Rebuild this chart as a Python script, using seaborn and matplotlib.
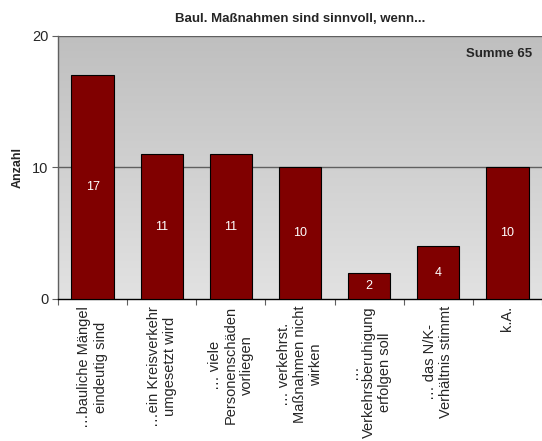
import numpy as np
import matplotlib
matplotlib.use("Agg")
import matplotlib.pyplot as plt
import seaborn as sns
from matplotlib.colors import LinearSegmentedColormap

# ─── Data ───────────────────────────────────────────────────────────────────
categories = [
    "…bauliche Mängel\neindeutig sind",
    "…ein Kreisverkehr\numgesetzt wird",
    "… viele\nPersonenschäden\nvorliegen",
    "… verkehrst.\nMaßnahmen nicht\nwirken",
    "…\nVerkehrsberuhigung\nerfolgen soll",
    "… das N/K-\nVerhältnis stimmt",
    "k.A.",
]
counts = [17, 11, 11, 10, 2, 4, 10]
title = "Baul. Maßnahmen sind sinnvoll, wenn..."
total_label = "Summe 65"
y_ticks = [0, 10, 20]

# ─── Style ──────────────────────────────────────────────────────────────────
sns.set_style("white")
plt.rcParams["font.family"] = ["Liberation Sans", "DejaVu Sans"]

BAR_COLOR = "#800000"
GRID_COLOR = "#606060"

fig = plt.figure(figsize=(5.42, 4.41), dpi=100)
ax = fig.add_axes([0.107, 0.322, 0.893, 0.597])

sns.barplot(x=categories, y=counts, color=BAR_COLOR, width=0.61,
            edgecolor="black", linewidth=0.8, saturation=1, ax=ax, zorder=3)

# gradient background (darker at top)
cmap = LinearSegmentedColormap.from_list("bg", ["#e2e2e2", "#bfbfbf"])
grad = np.linspace(0, 1, 256).reshape(-1, 1)
ax.imshow(grad, extent=[-0.5, 6.5, 0, 20], origin="lower", aspect="auto",
          cmap=cmap, zorder=0)
ax.set_xlim(-0.5, 6.5)
ax.set_ylim(0, 20)

for y in [10, 20]:
    ax.axhline(y, color=GRID_COLOR, lw=1.0, zorder=1)

# value labels inside bars
for i, v in enumerate(counts):
    ax.text(i, v / 2, str(v), ha="center", va="center", color="white",
            fontsize=9, zorder=4)

ax.text(0.979, 0.93, total_label, transform=ax.transAxes, ha="right",
        va="center", fontsize=9.5, fontweight="bold")

ax.set_title(title, fontsize=9.5, fontweight="bold", pad=10)
ax.set_ylabel("Anzahl", fontsize=9, fontweight="bold", labelpad=6)
ax.set_xlabel("")

ax.set_yticks(y_ticks)
ax.tick_params(axis="y", labelsize=10.5, length=4, width=0.8, color=GRID_COLOR,
               left=True, pad=3)
ax.set_xticks(range(len(categories)))
ax.set_xticklabels(categories, rotation=90, fontsize=10.5, ha="center",
                   va="top", multialignment="center")
ax.tick_params(axis="x", length=0, pad=5)
ax.set_xticks(np.arange(-0.5, len(categories), 1.0), minor=True)
ax.tick_params(axis="x", which="minor", length=4, width=0.8, color=GRID_COLOR,
               bottom=True)

for side in ["top", "right"]:
    ax.spines[side].set_visible(False)
ax.spines["left"].set_color(GRID_COLOR)
ax.spines["bottom"].set_color("black")
ax.spines["left"].set_linewidth(1.0)
ax.spines["bottom"].set_linewidth(1.0)

fig.savefig("out.png", dpi=100)
